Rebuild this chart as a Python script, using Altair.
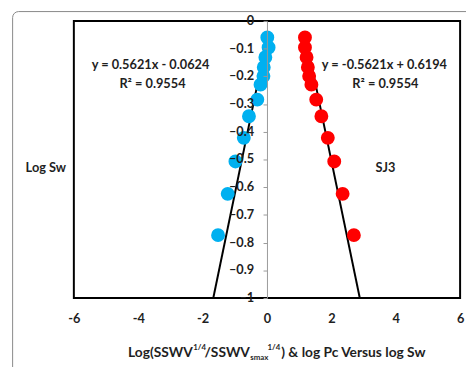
import altair as alt
import pandas as pd

# ---- data ----
log_sw = [-0.060, -0.096, -0.131, -0.167, -0.199, -0.230, -0.284, -0.344, -0.422, -0.507, -0.624, -0.773]
log_sswv = [0.01, 0.05, -0.05, -0.10, -0.11, -0.20, -0.30, -0.56, -0.72, -0.98, -1.22, -1.52]
log_pc = [1.18, 1.18, 1.23, 1.27, 1.31, 1.38, 1.53, 1.69, 1.89, 2.09, 2.35, 2.70]
series = ["SSWV", "Pc"]

trend_sswv_x = [0.013, -1.668]
trend_sswv_y = [-0.055, -1.0]
trend_pc_x = [1.20, 2.883]
trend_pc_y = [-0.055, -1.0]

x_ticks = [-6, -4, -2, 0, 2, 4, 6]
y_ticks = [0, -0.1, -0.2, -0.3, -0.4, -0.5, -0.6, -0.7, -0.8, -0.9, -1]
y_tick_labels = ["0", "–0.1", "–0.2", "–0.3", "–0.4", "–0.5", "–0.6", "–0.7", "–0.8", "–0.9", "–1"]

eq_left = ["y = 0.5621x - 0.0624", "R² = 0.9554"]
eq_right = ["y = -0.5621x + 0.6194", "R² = 0.9554"]

W, H = 393, 282
FONT = "Lato"
TXT = "#1f1f1f"

xs = alt.Scale(domain=[-6, 6], nice=False, zero=False)
ys = alt.Scale(domain=[-1, 0], nice=False, zero=False)

pts = pd.DataFrame({
    "x": log_sswv + log_pc,
    "y": log_sw + log_sw,
    "s": [series[0]] * len(log_sswv) + [series[1]] * len(log_pc),
})

x_axis = alt.Axis(values=x_ticks, title=None, grid=False, domain=False, ticks=False, tickSize=0,
                  labelPadding=15, labelFont=FONT, labelFontWeight="bold", labelFontSize=13,
                  labelColor=TXT, labelFlush=False, labelOverlap=False,
                  labelExpr="datum.value < 0 ? '-' + toString(-datum.value) : toString(datum.value)")
y_axis = alt.Axis(values=y_ticks, title=None, grid=False, offset=-W / 2, domainColor="#999",
                  tickColor="#999", tickSize=4, labels=False, zindex=1)

trend = pd.DataFrame({
    "x": trend_sswv_x + trend_pc_x,
    "y": trend_sswv_y + trend_pc_y,
    "s": [series[0]] * 2 + [series[1]] * 2,
})
lines = alt.Chart(trend).mark_line(color="black", strokeWidth=2).encode(
    x=alt.X("x:Q", scale=xs, axis=x_axis), y=alt.Y("y:Q", scale=ys, axis=y_axis), detail="s:N"
)

points = alt.Chart(pts).mark_circle(size=200, opacity=1).encode(
    x=alt.X("x:Q", scale=xs, axis=x_axis),
    y=alt.Y("y:Q", scale=ys, axis=y_axis),
    color=alt.Color("s:N", scale=alt.Scale(domain=series, range=["#00B0F0", "#FF0000"]), legend=None),
)

# y tick labels drawn beside the centred axis
ylab = alt.Chart(pd.DataFrame({"v": y_ticks, "t": y_tick_labels})).mark_text(
    font=FONT, fontWeight="bold", fontSize=13, color=TXT, align="right", baseline="middle"
).encode(x=alt.value(W / 2 - 13), y=alt.Y("v:Q", scale=ys, axis=y_axis), text="t:N")

one = alt.Data(values=[{}])


def label(t, x, y, size=13, align="center", baseline="middle"):
    return alt.Chart(one).mark_text(text=t, font=FONT, fontWeight="bold", fontSize=size,
                                    color=TXT, align=align, baseline=baseline).encode(
        x=alt.value(x), y=alt.value(y))


TB = 342  # title baseline (plot coords)
texts = [
    label("Log Sw", -28.5, 150),
    label("SJ3", 317, 150),
    label(eq_left[0], 78, 45),
    label(eq_left[1], 80, 64),
    label(eq_right[0], 316, 45),
    label(eq_right[1], 317, 64),
    # x-axis title with super/subscripts
    label("Log(SSWV", 121, TB, 14, "right", "alphabetic"),
    label("1/4", 121.5, TB - 7, 8, "left", "alphabetic"),
    label("/SSWV", 156, TB, 14, "center", "alphabetic"),
    label("smax", 179.5, TB + 3, 8, "left", "alphabetic"),
    label("1/4", 197, TB - 7, 8, "left", "alphabetic"),
    label(") & log Pc Versus log Sw", 211, TB, 14, "left", "alphabetic"),
]

frame = alt.Chart(one).mark_rect(filled=False, stroke="#888", strokeWidth=1, cornerRadius=6).encode(
    x=alt.value(-62.3), x2=alt.value(W + 30), y=alt.value(-9.5), y2=alt.value(H + 90)
)

chart = alt.layer(frame, lines, points, ylab, *texts).properties(
    width=W, height=H,
    autosize=alt.AutoSizeParams(type="none"),
    padding={"left": 67, "top": 10, "right": 6, "bottom": 67},
    background="white",
).configure_view(stroke="black", strokeWidth=2)

chart.save("out.html", embed_options={"renderer": "svg", "actions": False})
